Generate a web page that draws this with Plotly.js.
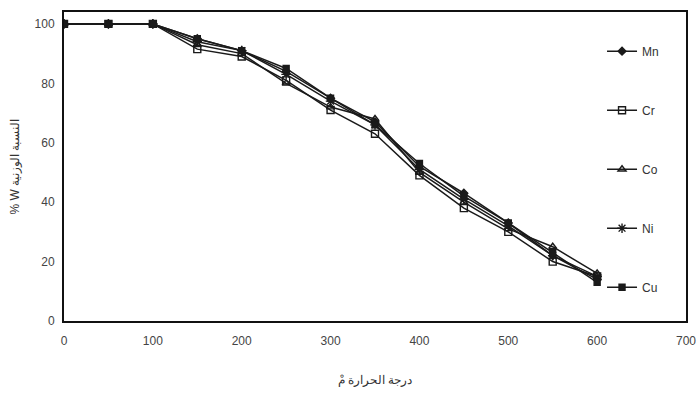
<!DOCTYPE html>
<html><head><meta charset="utf-8">
<script src="https://cdn.plot.ly/plotly-3.0.1.min.js"></script>
<style>body{margin:0;background:#fff}#c{width:697px;height:394px}</style>
</head><body><div id="c"></div>
<script>
const temps = [0, 50, 100, 150, 200, 250, 300, 350, 400, 450, 500, 550, 600];
const seriesNames = ["Mn", "Cr", "Co", "Ni", "Cu"];
const Mn = [100, 100, 100, 95, 91, 84, 75, 67, 52, 43, 33, 22, 14];
const Cr = [100, 100, 100, 91.5, 89, 81, 71, 63, 49, 38, 30, 20, 15];
const Co = [100, 100, 100, 93, 90, 80, 72, 68, 50, 40, 31, 25, 16];
const Ni = [100, 100, 100, 94, 91, 83, 74, 66, 51, 41, 32, 22, 15];
const Cu = [100, 100, 100, 95, 91, 85, 75, 66, 53, 42, 33, 23, 13];
const xTicks = [0, 100, 200, 300, 400, 500, 600, 700];
const yTicks = [0, 20, 40, 60, 80, 100];

const values = [Mn, Cr, Co, Ni, Cu];
const symbols = ["diamond", "square-open", "triangle-up-open", "asterisk-open", "square"];
const sizes = [6, 7, 7, 8, 6];
const traces = seriesNames.map((n, i) => ({
  x: temps, y: values[i], name: n, type: "scatter", mode: "lines+markers",
  legendgroup: n,
  line: {color: "#1a1a1a", width: 1.5},
  marker: {symbol: symbols[i], size: sizes[i], color: "#1a1a1a",
           line: {color: "#1a1a1a", width: 1.4}}
}));

const layout = {
  width: 697, height: 394,
  margin: {l: 64, r: 11, t: 12, b: 73},
  paper_bgcolor: "#fff", plot_bgcolor: "#fff",
  font: {family: "Liberation Sans, Arial, sans-serif", color: "#333", size: 11},
  showlegend: true,
  legend: {x: 0.865, y: 0.92, xanchor: "left", yanchor: "top",
           bgcolor: "rgba(0,0,0,0)", tracegroupgap: 40, traceorder: "grouped",
           font: {size: 12, color: "#333"}, itemwidth: 30},
  xaxis: {range: [0, 700], tickvals: xTicks, ticktext: xTicks.map(String),
          showgrid: false, zeroline: false, showline: true, mirror: true,
          linecolor: "#111", linewidth: 2, ticks: "", ticklen: 0,
          ticklabelstandoff: 8,
          tickfont: {size: 12, color: "#444"},
          title: {text: "درجة الحرارة مْ", font: {size: 12, color: "#333"}, standoff: 28}},
  yaxis: {range: [0, 104], tickvals: yTicks, ticktext: yTicks.map(String),
          showgrid: false, zeroline: false, showline: true, mirror: true,
          linecolor: "#111", linewidth: 2, ticks: "", ticklen: 0,
          ticklabelstandoff: 5,
          tickfont: {size: 12, color: "#444"},
          title: {text: "% W النسبة الوزنية", font: {size: 12, color: "#333"}, standoff: 12}}
};
Plotly.newPlot("c", traces, layout, {displayModeBar: false, staticPlot: true});
</script></body></html>
